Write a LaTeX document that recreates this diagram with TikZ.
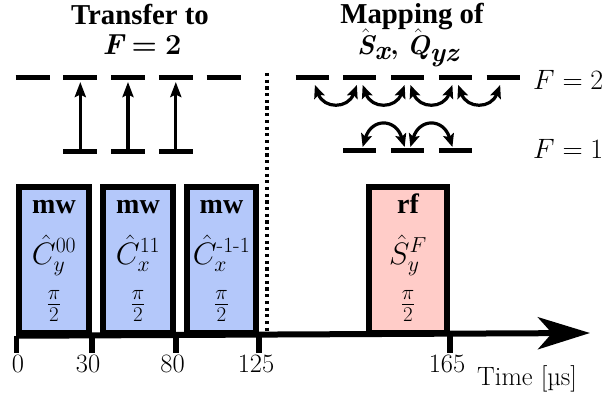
\RequirePackage{fix-cm}
\documentclass[tikz,border=0pt]{standalone}
\usepackage{amsmath}
\usepackage{fontspec}
\newfontfamily\tnrfam{Liberation Serif}
\usetikzlibrary{arrows.meta,calc}
\DeclareMathSizes{26.5}{26.5}{18.55}{13.25}
\DeclareMathSizes{27}{27}{18.9}{13.5}
\DeclareMathSizes{28}{28}{19.6}{14}
\DeclareMathSizes{29}{29}{20.3}{14.5}
\DeclareMathSizes{30}{30}{21}{15}
\DeclareMathSizes{31}{31}{21.7}{15.5}
\definecolor{mwblue}{RGB}{180,200,250}
\definecolor{rfred}{RGB}{255,204,200}
\newcommand\myTitleFont{\tnrfam\bfseries\fontsize{28.8}{32}\selectfont}
\newcommand\myBoxFont{\tnrfam\bfseries\fontsize{28}{30}\selectfont}
\newcommand\myLblFont{\fontsize{26.5}{28}\selectfont}
\newcommand\myBoxMath{\fontsize{31}{33}\selectfont}
\newcommand\myFrac{{\fontsize{30}{32}\selectfont$\frac{\pi}{2}$}}
\newcommand\myBI[1]{\mbox{\bfseries\itshape #1}}
\newcommand\myBU[1]{\mbox{\bfseries #1}}
\tikzset{
  level/.style={line width=5pt},
  uparr/.style={line width=3.2pt,-{Stealth[length=15pt,width=11pt,inset=2.5pt]}},
  dblarr/.style={line width=3.2pt,{Stealth[length=13pt,width=11pt,inset=2.5pt]}-{Stealth[length=13pt,width=11pt,inset=2.5pt]}},
  pulse/.style={draw,line width=5.5pt,inner sep=0pt},
  axisline/.style={line width=6pt,-{Stealth[length=52pt,width=32pt,inset=14pt]}},
  tickline/.style={line width=5.5pt},
  dotline/.style={line width=3.8pt,dash pattern=on 3.2pt off 3.5pt},
  txt/.style={inner sep=0pt,anchor=base}
}
\begin{document}
\begin{tikzpicture}[x=1pt,y=-1pt]
\useasboundingbox (0,0) rectangle (610,401);

% pulses
\node[pulse,fill=mwblue,minimum width=70pt,minimum height=146pt] (p1) at (54,260) {};
\node[pulse,fill=mwblue,minimum width=70pt,minimum height=146pt] (p2) at (138,260) {};
\node[pulse,fill=mwblue,minimum width=69pt,minimum height=146pt] (p3) at (221.5,260) {};
\node[pulse,fill=rfred,minimum width=78pt,minimum height=146pt] (p4) at (408,260) {};

% pulse texts
\node[txt] (mw1) at (54,213) {\myBoxFont mw};
\node[txt] (mw2) at (138,213) {\myBoxFont mw};
\node[txt] (mw3) at (221.5,213) {\myBoxFont mw};
\node[txt] (rf) at (408,213) {\myBoxFont rf};
\node[txt] (c1) at (54,264) {\myBoxMath$\hat{C}^{00}_y$};
\node[txt] (c2) at (138,264) {\myBoxMath$\hat{C}^{11}_x$};
\node[txt] (c3) at (221.5,264) {\myBoxMath$\hat{C}^{\text{-}1\text{-}1}_x$};
\node[txt] (s1) at (408,264) {\myBoxMath$\hat{S}^F_y$};
\node[txt] (f1) at (54,311.5) {\myFrac};
\node[txt] (f2) at (138,311.5) {\myFrac};
\node[txt] (f3) at (221.5,311.5) {\myFrac};
\node[txt] (f4) at (408,311.5) {\myFrac};

% dotted separator
\coordinate (dtop) at (267,73);
\coordinate (dbot) at (267,333);
\draw[dotline] (dtop) -- (dbot);

% axis and ticks
\coordinate (axend) at (590,333);
\draw[axisline] (p1.south west) -- (axend);
\foreach \p in {p1.south west,p1.south east,p2.south east,p3.south east,p4.south east}
  \draw[tickline] (\p) -- ++(0,17);
\node[txt] (t0) at (18,372) {\myLblFont 0};
\node[txt] (t30) at (88,372) {\myLblFont 30};
\node[txt] (t80) at (172.5,372) {\myLblFont 80};
\node[txt] (t125) at (256,372) {\myLblFont 125};
\node[txt] (t165) at (447,372) {\myLblFont 165};
\node[txt,anchor=base west] (tlabel) at (477,385) {\myLblFont Time [µs]};

% titles
\node[txt] (ti1) at (140,25) {\myTitleFont Transfer to};
\node[txt] (ti1b) at (142,55) {\fontsize{29}{31}\selectfont$\myBI{F}\mathrel{\myBU{=}}\myBU{2}$};
\node[txt] (ti2) at (412,24) {\myTitleFont Mapping of};
\node[txt] (ti2b) at (408,55) {\fontsize{27}{30}\selectfont$\hat{\myBI{S}}_{\myBI{x}}\myBU{,}\ \hat{\myBI{Q}}_{\myBI{yz}}$};

% levels left
\foreach \i/\x in {1/32.5,2/80.3,3/128,4/175.8,5/223.5}
  \coordinate (La\i) at (\x,78);
\foreach \i/\x in {2/80.3,3/128,4/175.8}
  \coordinate (Lb\i) at (\x,151);
% levels right
\foreach \i/\x in {1/312,2/359.8,3/407.5,4/455.3,5/503}
  \coordinate (Ra\i) at (\x,78);
\foreach \i/\x in {2/359.8,3/407.5,4/455.3}
  \coordinate (Rb\i) at (\x,150);

\foreach \i in {1,...,5} {
  \draw[level] ($(La\i)+(-17,0)$) -- ($(La\i)+(17,0)$);
  \draw[level] ($(Ra\i)+(-16.5,0)$) -- ($(Ra\i)+(16.5,0)$);
}
\foreach \i in {2,3,4} {
  \draw[level] ($(Lb\i)+(-17,0)$) -- ($(Lb\i)+(17,0)$);
  \draw[level] ($(Rb\i)+(-16.5,0)$) -- ($(Rb\i)+(16.5,0)$);
  \draw[uparr] (Lb\i) -- ($(La\i)+(0,4)$);
}

% coupling arrows F=2
\foreach \i/\j in {1/2,2/3,3/4,4/5}
  \draw[dblarr] ($(Ra\i)!0.5!(Ra\j)+(-21,7)$) .. controls +(9,24) and +(-9,24) .. ($(Ra\i)!0.5!(Ra\j)+(21,7)$);
% coupling arrows F=1
\foreach \i/\j in {2/3,3/4}
  \draw[dblarr] ($(Rb\i)!0.5!(Rb\j)+(-21,-3)$) .. controls +(9,-29) and +(-9,-29) .. ($(Rb\i)!0.5!(Rb\j)+(21,-3)$);

% level labels
\node[txt,anchor=base west] (lF2) at (533,90) {\fontsize{28}{30}\selectfont$F=2$};
\node[txt,anchor=base west] (lF1) at (533,158) {\fontsize{28}{30}\selectfont$F=1$};
\end{tikzpicture}
\end{document}
